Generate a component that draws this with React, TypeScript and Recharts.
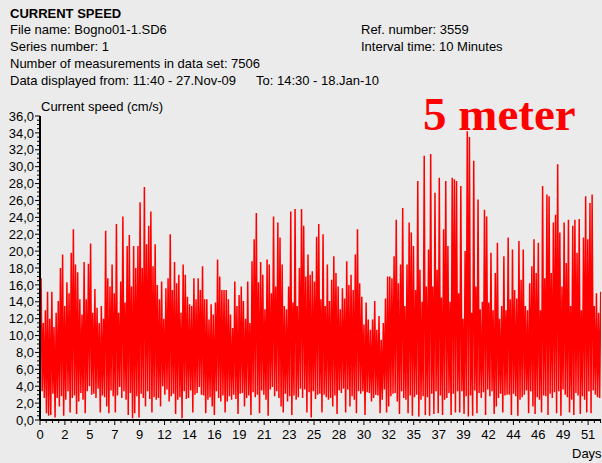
import React from 'react';
import { LineChart, Line, XAxis, YAxis } from 'recharts';

// current speed (cm/s), one row per day, one reading every 0.1 day
// (alternating trough / crest)
const speedByDay: number[][] = [
  [11.4, 16.8, 3.4, 11.5, 2.6, 13.0, 0.8, 15.2, 0.5, 12.0],
  [0.6, 15.2, 3.1, 11.0, 0.3, 12.7, 2.6, 14.1, 1.6, 18.0],
  [2.8, 19.6, 0.5, 13.5, 2.4, 16.3, 3.4, 15.0, 0.9, 19.8],
  [2.6, 22.6, 2.9, 18.4, 0.7, 17.5, 2.2, 14.3, 3.2, 12.5],
  [2.4, 18.7, 0.8, 14.3, 3.4, 18.5, 4.0, 20.9, 3.0, 12.7],
  [3.1, 15.5, 2.6, 13.3, 3.7, 11.5, 0.9, 13.5, 2.9, 12.0],
  [2.7, 22.4, 1.6, 16.8, 0.8, 15.8, 3.5, 18.4, 2.8, 15.0],
  [0.9, 23.2, 2.9, 12.7, 3.9, 16.4, 2.6, 24.1, 3.4, 13.9],
  [2.4, 20.6, 0.6, 21.9, 3.2, 15.8, 0.2, 20.6, 0.8, 18.0],
  [2.8, 20.6, 0.3, 25.8, 3.1, 18.0, 2.6, 27.6, 1.6, 20.8],
  [3.4, 23.0, 2.5, 24.7, 0.9, 18.2, 2.7, 20.8, 2.4, 16.0],
  [2.6, 14.3, 1.6, 16.4, 4.0, 12.0, 3.0, 15.6, 3.6, 16.8],
  [2.2, 22.0, 2.8, 15.4, 3.1, 18.7, 0.7, 16.2, 2.4, 17.2],
  [2.7, 12.7, 0.2, 18.4, 3.4, 17.2, 2.5, 14.6, 2.6, 13.7],
  [3.5, 13.5, 0.9, 16.8, 3.0, 14.3, 3.2, 16.8, 3.9, 15.4],
  [3.0, 18.2, 2.9, 14.3, 0.8, 14.3, 2.4, 11.9, 2.7, 13.7],
  [1.6, 12.5, 0.6, 13.9, 3.4, 19.0, 2.6, 17.0, 2.2, 15.4],
  [2.9, 15.4, 0.9, 15.4, 2.2, 14.3, 2.8, 12.5, 2.4, 10.9],
  [3.0, 16.4, 2.5, 13.5, 0.7, 14.8, 3.1, 15.8, 3.2, 14.1],
  [1.6, 12.0, 2.6, 16.4, 2.9, 11.5, 0.6, 18.8, 3.3, 21.4],
  [2.7, 24.5, 3.0, 16.3, 0.8, 18.7, 3.5, 17.2, 3.0, 13.1],
  [2.4, 19.0, 0.5, 18.4, 3.6, 15.0, 3.9, 24.1, 2.8, 15.8],
  [3.4, 23.4, 2.6, 21.6, 1.6, 18.4, 0.9, 13.5, 3.1, 13.1],
  [2.2, 15.8, 2.8, 24.7, 0.6, 13.9, 2.9, 25.0, 2.4, 13.5],
  [2.7, 18.0, 3.7, 25.0, 2.6, 23.0, 3.6, 17.0, 0.9, 19.6],
  [3.3, 17.2, 0.3, 17.6, 3.4, 16.4, 2.5, 21.7, 3.0, 23.2],
  [3.1, 14.3, 0.9, 22.0, 3.0, 13.5, 2.7, 18.4, 2.4, 14.1],
  [2.6, 16.6, 1.6, 19.4, 2.9, 17.4, 0.7, 15.8, 3.5, 13.1],
  [3.2, 15.6, 3.7, 14.4, 0.9, 18.8, 3.6, 16.0, 1.6, 17.2],
  [2.8, 15.4, 2.4, 19.6, 0.8, 22.6, 3.4, 16.2, 3.1, 14.6],
  [3.4, 11.3, 0.6, 13.9, 3.3, 11.9, 3.2, 10.7, 2.2, 11.9],
  [2.6, 14.1, 3.0, 10.7, 2.9, 12.3, 0.8, 9.5, 2.4, 11.5],
  [3.6, 14.4, 0.9, 17.0, 1.6, 17.0, 2.8, 16.8, 3.1, 19.4],
  [3.2, 23.7, 2.2, 16.2, 0.7, 18.4, 3.4, 25.1, 2.6, 13.5],
  [2.4, 18.4, 0.8, 23.4, 2.9, 22.2, 0.5, 20.6, 2.7, 15.4],
  [3.0, 28.3, 0.4, 17.8, 2.4, 14.0, 2.8, 31.3, 0.6, 15.8],
  [2.7, 20.2, 0.5, 31.5, 3.1, 15.8, 0.7, 26.9, 3.4, 17.8],
  [0.8, 28.7, 2.9, 14.5, 0.6, 22.6, 2.4, 28.3, 2.6, 20.6],
  [3.2, 14.0, 0.6, 28.7, 3.1, 28.5, 0.9, 28.3, 3.4, 15.0],
  [0.9, 27.7, 3.4, 12.0, 0.7, 20.0, 2.8, 34.2, 0.4, 33.5],
  [2.9, 12.7, 0.5, 30.7, 3.5, 15.8, 0.8, 26.1, 3.2, 13.1],
  [2.6, 14.0, 3.3, 24.9, 0.6, 24.1, 3.6, 13.9, 2.8, 19.8],
  [3.4, 13.0, 0.7, 17.4, 1.6, 21.0, 2.6, 12.0, 3.1, 13.5],
  [0.9, 19.4, 2.9, 13.0, 3.0, 21.6, 3.0, 14.3, 0.6, 20.2],
  [3.1, 15.4, 2.8, 14.4, 0.5, 21.2, 2.4, 16.6, 2.7, 20.2],
  [3.0, 13.5, 3.5, 13.0, 0.8, 16.2, 3.4, 18.2, 1.6, 21.4],
  [0.7, 17.4, 2.7, 21.0, 2.4, 13.0, 0.9, 27.7, 2.9, 16.8],
  [2.8, 26.7, 0.6, 26.5, 3.1, 17.4, 2.6, 23.4, 3.3, 24.3],
  [0.8, 30.3, 3.4, 22.2, 0.5, 15.8, 3.6, 23.4, 3.0, 18.6],
  [2.7, 23.7, 0.9, 13.5, 2.4, 23.0, 0.6, 23.7, 3.2, 19.8],
  [2.9, 23.8, 0.7, 13.0, 2.8, 21.6, 2.4, 26.5, 0.9, 21.4],
  [3.4, 25.7, 0.8, 26.7, 3.5, 13.5, 3.0, 15.0, 2.7, 12.7],
  [2.6, 15.2],
];

const xTickLabels = [0, 2, 5, 7, 9, 12, 14, 16, 19, 21, 23, 25, 28, 30, 32, 35, 37, 39, 42, 44, 46, 49, 51];
const X_TICK_STEP = 2.315; // days between labelled ticks
const X_MAX = 52.125;
const Y_MAX = 36;

const data = speedByDay.flat().map((speed, i) => ({ day: i / 10, speed }));

const xTicks: number[] = [];
for (let i = 0; i < xTickLabels.length * 4; i++) {
  const v = (i * X_TICK_STEP) / 4;
  if (v <= X_MAX) xTicks.push(v);
}
const yTicks: number[] = [];
for (let i = 0; i <= Y_MAX * 2; i++) yTicks.push(i / 2);

const FONT = '"Liberation Sans", Arial, sans-serif';

const YTick = (props: any) => {
  const { x, y, payload } = props;
  const v = payload.value as number;
  const major = Math.abs(v % 2) < 1e-6;
  return (
    <g>
      <line x1={x - (major ? 5 : 3)} x2={x} y1={y} y2={y} stroke="#000" />
      {major && (
        <text x={x - 6} y={y} dy="0.36em" textAnchor="end" fontSize={13} fontFamily={FONT} fill="#000">
          {v.toFixed(1).replace('.', ',')}
        </text>
      )}
    </g>
  );
};

const XTick = (props: any) => {
  const { x, y, index } = props;
  const major = index % 4 === 0;
  return (
    <g>
      <line x1={x} x2={x} y1={y} y2={y + (major ? 5 : 3)} stroke="#000" />
      {major && (
        <text x={x} y={y + 19} textAnchor="middle" fontSize={13} fontFamily={FONT} fill="#000">
          {xTickLabels[index / 4]}
        </text>
      )}
    </g>
  );
};

const App = () => {
  return (
    <div style={{ position: 'absolute', left: 0, top: 0, width: 602, height: 463, background: '#ebebeb', overflow: 'hidden' }}>
      <div style={{ position: 'absolute', left: 0, top: 0 }}>
        <LineChart width={602} height={463} data={data} margin={{ top: 116, right: 1, bottom: 0, left: 0 }}>
          <XAxis
            dataKey="day"
            type="number"
            domain={[0, X_MAX]}
            ticks={xTicks}
            interval={0}
            height={43}
            tickSize={0}
            tickMargin={0}
            tickLine={false}
            axisLine={{ stroke: '#000', strokeWidth: 2 }}
            tick={XTick}
            allowDataOverflow
          />
          <YAxis
            type="number"
            domain={[0, Y_MAX]}
            ticks={yTicks}
            interval={0}
            width={40}
            tickSize={0}
            tickMargin={0}
            tickLine={false}
            axisLine={{ stroke: '#000', strokeWidth: 2 }}
            tick={YTick}
          />
          <Line
            type="linear"
            dataKey="speed"
            stroke="#ff0000"
            strokeWidth={1.5}
            dot={false}
            isAnimationActive={false}
          />
        </LineChart>
      </div>
      <svg width={602} height={463} style={{ position: 'absolute', left: 0, top: 0, pointerEvents: 'none' }}>
        <g fontFamily={FONT} fontSize={13} fill="#000">
          <text x={10} y={17.5} fontWeight="bold">CURRENT SPEED</text>
          <text x={10} y={34}>File name: Bogno01-1.SD6</text>
          <text x={10} y={51}>Series number: 1</text>
          <text x={10} y={68}>Number of measurements in data set: 7506</text>
          <text x={10} y={84.5}>Data displayed from: 11:40 - 27.Nov-09</text>
          <text x={256} y={84.5}>To: 14:30 - 18.Jan-10</text>
          <text x={361} y={34}>Ref. number: 3559</text>
          <text x={361} y={51}>Interval time: 10 Minutes</text>
          <text x={41} y={111}>Current speed (cm/s)</text>
          <text x={572} y={458}>Days</text>
        </g>
        <text x={423} y={130} fontFamily='"Liberation Serif", "Times New Roman", serif' fontWeight="bold" fontSize={47} fill="#ff0000">
          5 meter
        </text>
      </svg>
    </div>
  );
};

export default App;
